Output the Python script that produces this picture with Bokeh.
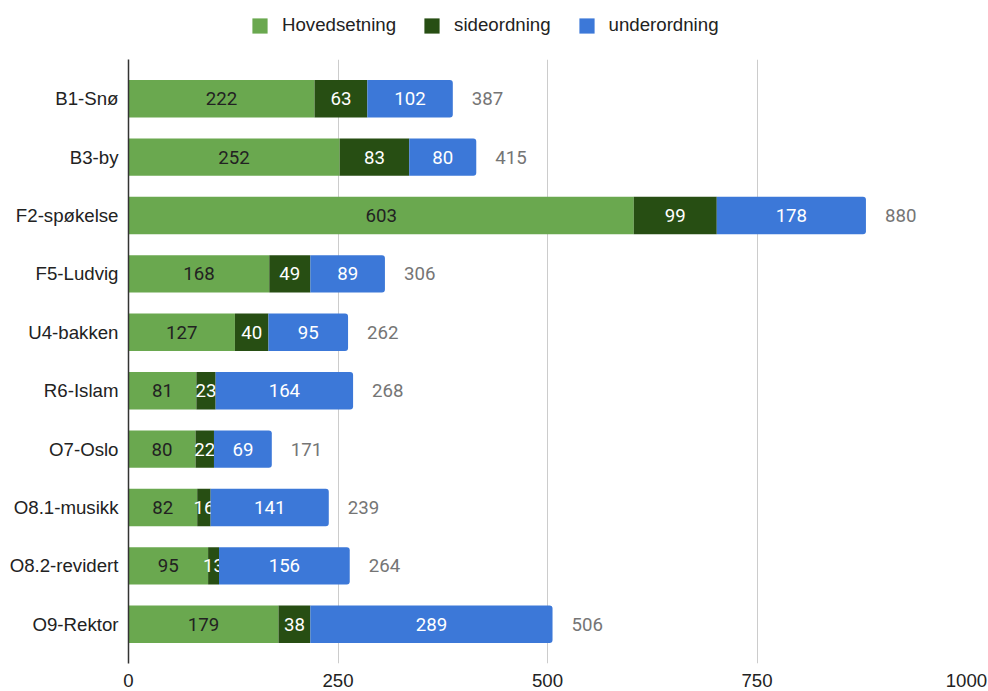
from bokeh.plotting import figure
from bokeh.layouts import column
from bokeh.models import FactorRange, Range1d, Legend, LegendItem, ColumnDataSource, FixedTicker
from bokeh.core.properties import value
from bokeh.embed import file_html
from bokeh.resources import INLINE

categories = ["B1-Snø", "B3-by", "F2-spøkelse", "F5-Ludvig", "U4-bakken",
              "R6-Islam", "O7-Oslo", "O8.1-musikk", "O8.2-revidert", "O9-Rektor"]
hovedsetning = [222, 252, 603, 168, 127, 81, 80, 82, 95, 179]
sideordning = [63, 83, 99, 49, 40, 23, 22, 16, 13, 38]
underordning = [102, 80, 178, 89, 95, 164, 69, 141, 156, 289]
series_names = ["Hovedsetning", "sideordning", "underordning"]
x_ticks = [0, 250, 500, 750, 1000]

colors = ["#6aa84f", "#274e13", "#3c78d8"]
text_colors = ["#222222", "#ffffff", "#ffffff"]
FONT = "Liberation Sans"
LFONT = "Roboto"
FS = "18.67px"

# ---- main chart ----
p = figure(width=988, height=632, output_backend="svg", toolbar_location=None,
           y_range=FactorRange(factors=list(reversed(categories)),
                               range_padding=0.171, range_padding_units="absolute"),
           x_range=Range1d(0, 1000),
           min_border_left=128, min_border_right=22, min_border_top=0, min_border_bottom=28)
p.outline_line_color = None

series = [hovedsetning, sideordning, underordning]
left = [0] * len(categories)
for i, vals in enumerate(series):
    right = [l + v for l, v in zip(left, vals)]
    src = ColumnDataSource(dict(y=categories, left=left, right=right,
                                mid=[(l + r) / 2 for l, r in zip(left, right)],
                                lab=[str(v) for v in vals]))
    kw = {}
    if i == 2:
        kw["border_radius"] = (0, 3, 3, 0)
    p.hbar(y="y", left="left", right="right", height=0.64, source=src,
           fill_color=colors[i], line_color=None, **kw)
    p.text(x="mid", y="y", text="lab", source=src, text_align="center",
           text_baseline="middle", text_color=text_colors[i],
           text_font=value(LFONT), text_font_size=FS)
    left = right

totals = left
tsrc = ColumnDataSource(dict(y=categories, x=totals, lab=[str(t) for t in totals]))
p.text(x="x", y="y", text="lab", source=tsrc, text_align="left", text_baseline="middle",
       x_offset=19, text_color="#757575", text_font=value(LFONT), text_font_size=FS)

p.xaxis.ticker = FixedTicker(ticks=x_ticks)
p.xaxis.axis_line_color = None
p.xaxis.major_tick_line_color = None
p.xaxis.minor_tick_line_color = None
p.xaxis.major_label_standoff = 4
p.xaxis.major_label_text_font = FONT
p.xaxis.major_label_text_font_size = FS
p.xaxis.major_label_text_color = "#222222"

p.yaxis.axis_line_color = "#333333"
p.yaxis.axis_line_width = 1.5
p.yaxis.major_tick_line_color = None
p.yaxis.minor_tick_line_color = None
p.yaxis.major_label_standoff = 4
p.yaxis.major_label_text_font = FONT
p.yaxis.major_label_text_font_size = FS
p.yaxis.major_label_text_color = "#222222"

p.xgrid.grid_line_color = "#cccccc"
p.xgrid.ticker = FixedTicker(ticks=x_ticks[1:])
p.ygrid.grid_line_color = None

# ---- legend strip ----
lg = figure(width=988, height=59, output_backend="svg", toolbar_location=None,
            x_range=Range1d(0, 1), y_range=Range1d(0, 1),
            min_border=0, min_border_left=0, min_border_right=0,
            min_border_top=0, min_border_bottom=0)
lg.axis.visible = False
lg.grid.visible = False
lg.outline_line_color = None
dummy = []
for c in colors:
    # placed outside the visible range: only used for the legend swatch
    dummy.append(lg.hbar(y=[-50], left=[-60], right=[-55], height=0.5,
                         fill_color=c, line_color=None))
legend = Legend(items=[LegendItem(label=n, renderers=[r]) for n, r in zip(series_names, dummy)],
                orientation="horizontal", location=(122, 23),
                glyph_width=19, glyph_height=19, label_standoff=13, spacing=26,
                padding=0, margin=0, border_line_color=None, background_fill_alpha=0,
                label_text_font=FONT, label_text_font_size=FS, label_text_color="#222222",
                label_height=20)
lg.add_layout(legend, "center")

layout = column(lg, p, spacing=0)
open("out.html", "w").write(file_html(layout, INLINE))
